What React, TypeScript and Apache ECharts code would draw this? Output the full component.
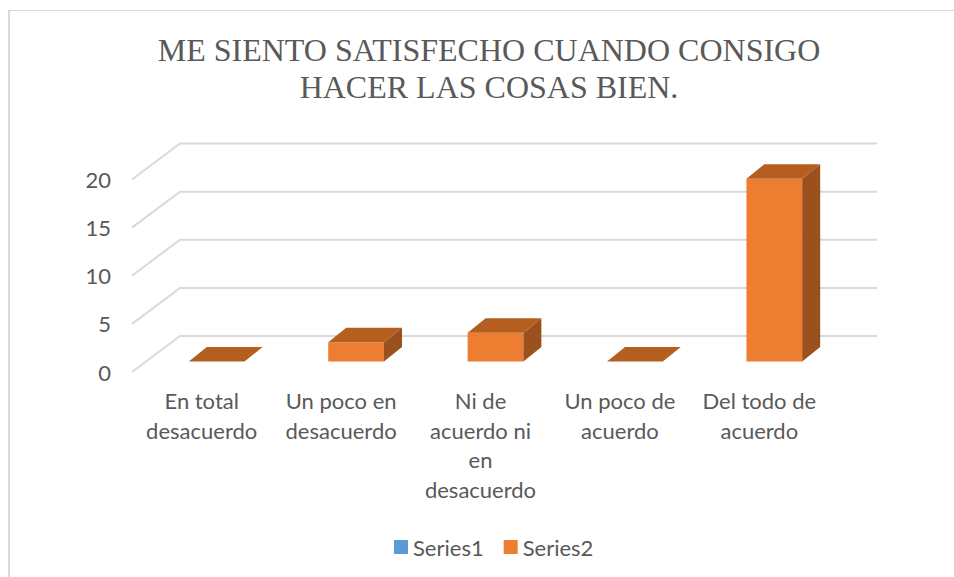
import React, { useEffect, useRef } from "react";
import * as echarts from "echarts";

const titleLines = ["ME SIENTO SATISFECHO CUANDO CONSIGO", "HACER LAS COSAS BIEN."];
const categories = ["En total\ndesacuerdo", "Un poco en\ndesacuerdo", "Ni de\nacuerdo ni\nen\ndesacuerdo", "Un poco de\nacuerdo", "Del todo de\nacuerdo"];
const series2Values = [0, 2, 3, 0, 19];
const wallTicks = [0, 5, 10, 15, 20];

const DEPTH_X = 48;
const DEPTH_Y = 36;
const BAR_SHIFT_X = 15;
const BAR_SHIFT_Y = 10.5;
const BAR_DX = 18;
const BAR_DY = 14.5;
const BAR_RATIO = 0.4;
const INK = "#595959";

export default function App() {
  const ref = useRef<HTMLDivElement>(null);
  useEffect(() => {
    document.body.style.margin = "0";
    const chart = echarts.init(ref.current!, null, { renderer: "svg" });
    chart.setOption({
      animation: false,
      backgroundColor: "#ffffff",
      textStyle: { fontFamily: "Lato" },
      title: {
        text: titleLines.join("\n"),
        left: 484,
        top: 26,
        textAlign: "center",
        textStyle: { fontFamily: "Liberation Serif", fontSize: 32, fontWeight: "normal", color: INK, lineHeight: 37 },
      },
      legend: {
        data: ["Series1", "Series2"],
        left: 389,
        top: 531,
        icon: "rect",
        itemWidth: 14,
        itemHeight: 14,
        itemGap: 20,
        textStyle: { fontFamily: "Lato", fontSize: 22, color: INK },
      },
      grid: { left: 132, top: 179.5, width: 697, height: 192.5 },
      xAxis: {
        type: "category",
        data: categories,
        axisLine: { show: false },
        axisTick: { show: false },
        axisLabel: { color: INK, fontSize: 22, lineHeight: 29.5, margin: 14, interval: 0 },
      },
      yAxis: {
        type: "value",
        min: 0,
        max: 20,
        interval: 5,
        axisLine: { show: false },
        axisTick: { show: false },
        splitLine: { show: false },
        axisLabel: { color: INK, fontSize: 22, margin: 21, verticalAlign: "middle" },
      },
      graphic: [
        {
          type: "line",
          silent: true,
          shape: { x1: 8, y1: 10.5, x2: 954, y2: 10.5 },
          style: { stroke: "#d9d9d9", lineWidth: 1 },
        },
        {
          type: "line",
          silent: true,
          shape: { x1: 9, y1: 10, x2: 9, y2: 577 },
          style: { stroke: "#d9d9d9", lineWidth: 2 },
        },
      ],
      series: [
        { name: "Series1", type: "bar", data: [], itemStyle: { color: "#5B9BD5" } },
        {
          name: "walls",
          type: "custom",
          silent: true,
          z: 1,
          data: wallTicks.map((v) => [0, v]),
          encode: { x: 0, y: 1 },
          renderItem: (params: any, api: any) => {
            const y = api.coord([0, api.value(1)])[1];
            const cs = params.coordSys;
            return {
              type: "polyline",
              shape: { points: [[cs.x, y], [cs.x + DEPTH_X, y - DEPTH_Y], [cs.x + cs.width + DEPTH_X, y - DEPTH_Y]] },
              style: { fill: "none", stroke: "#d9d9d9", lineWidth: 2 },
            };
          },
        },
        {
          name: "Series2",
          type: "custom",
          silent: true,
          z: 2,
          itemStyle: { color: "#ED7D31" },
          data: series2Values.map((v, i) => [i, v]),
          encode: { x: 0, y: 1 },
          renderItem: (_params: any, api: any) => {
            const top = api.coord([api.value(0), api.value(1)]);
            const base = api.coord([api.value(0), 0]);
            const w = api.size([1, 0])[0] * BAR_RATIO;
            const x0 = top[0] - w / 2 + BAR_SHIFT_X;
            const x1 = x0 + w;
            const yt = top[1] - BAR_SHIFT_Y;
            const yb = base[1] - BAR_SHIFT_Y;
            const poly = (points: number[][], fill: string) => ({ type: "polygon", shape: { points }, style: { fill } });
            return {
              type: "group",
              children: [
                poly([[x0, yb], [x1, yb], [x1, yt], [x0, yt]], "#ED7D31"),
                poly([[x1, yb], [x1 + BAR_DX, yb - BAR_DY], [x1 + BAR_DX, yt - BAR_DY], [x1, yt]], "#9A511D"),
                poly([[x0, yt], [x1, yt], [x1 + BAR_DX, yt - BAR_DY], [x0 + BAR_DX, yt - BAR_DY]], "#B45F20"),
              ],
            };
          },
        },
      ],
    });
    return () => chart.dispose();
  }, []);
  return <div ref={ref} style={{ width: 954, height: 577 }} />;
}
